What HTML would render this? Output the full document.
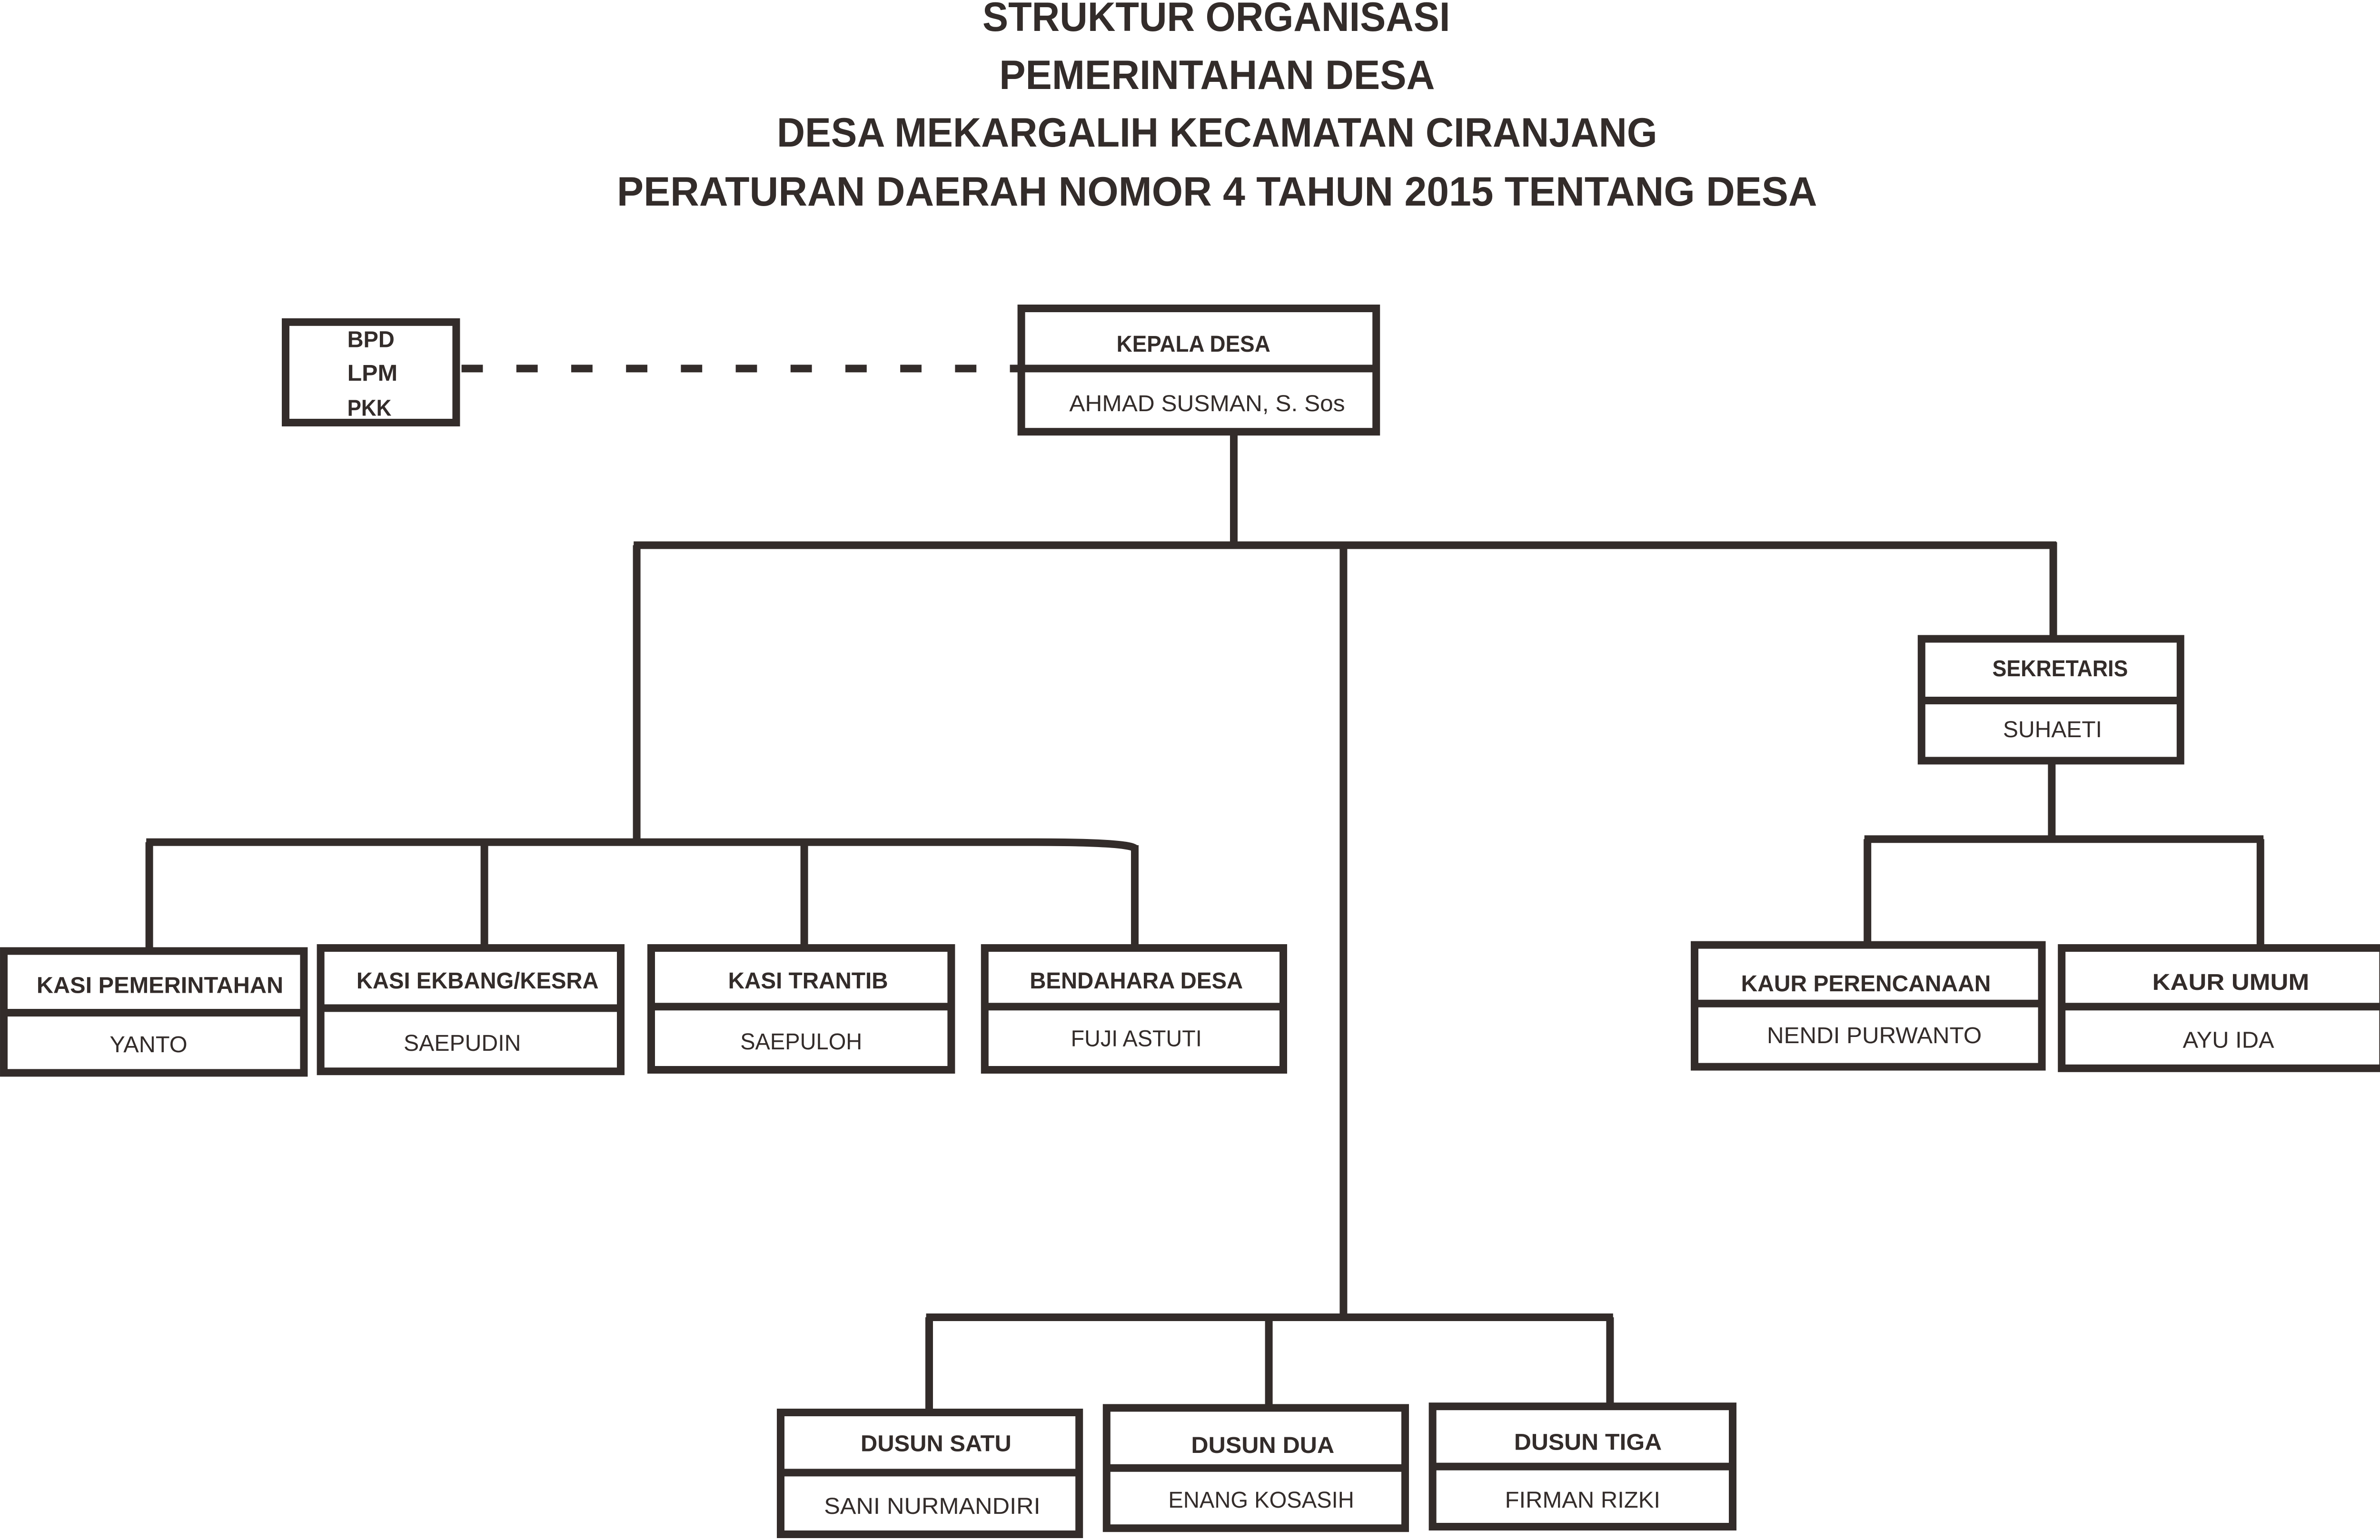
<!DOCTYPE html>
<html><head><meta charset="utf-8"><style>
html,body{margin:0;padding:0;background:#fff;}
svg{display:block;}
text{font-family:"Liberation Sans",sans-serif;fill:#332c2a;}
.b{font-weight:bold;}
</style></head><body>
<svg width="5017" height="3236" viewBox="0 0 1567.8 1011.25" xmlns="http://www.w3.org/2000/svg">
<rect x="0" y="0" width="1567.8" height="1011.25" fill="#fff"/>
<g class="b" font-size="27">
<text class="b" x="645" y="20.3" textLength="307" lengthAdjust="spacingAndGlyphs">STRUKTUR ORGANISASI</text>
<text class="b" x="656" y="58.4" textLength="286" lengthAdjust="spacingAndGlyphs">PEMERINTAHAN DESA</text>
<text class="b" x="510" y="96.3" textLength="578" lengthAdjust="spacingAndGlyphs">DESA MEKARGALIH KECAMATAN CIRANJANG</text>
<text class="b" x="405" y="135" textLength="788" lengthAdjust="spacingAndGlyphs">PERATURAN DAERAH NOMOR 4 TAHUN 2015 TENTANG DESA</text>
</g>
<g stroke="#332c2a" stroke-width="5" fill="none" stroke-linecap="butt">
<!-- connectors -->
<line x1="303" y1="242" x2="670" y2="242" stroke-dasharray="14,22"/>
<line x1="810" y1="284" x2="810" y2="360"/>
<line x1="416" y1="358" x2="1350" y2="358"/>
<line x1="418" y1="358" x2="418" y2="555"/>
<line x1="882" y1="358" x2="882" y2="867"/>
<line x1="1348" y1="356" x2="1348" y2="419"/>
<line x1="1347" y1="500" x2="1347" y2="553"/>
<line x1="1224" y1="551" x2="1486" y2="551"/>
<line x1="1226" y1="551" x2="1226" y2="620"/>
<line x1="1484" y1="551" x2="1484" y2="622"/>
<path d="M96 553 L680 553 Q740 553 745 557"/>
<line x1="98" y1="553" x2="98" y2="624"/>
<line x1="318" y1="553" x2="318" y2="622"/>
<line x1="528" y1="553" x2="528" y2="622"/>
<line x1="745" y1="555" x2="745" y2="622"/>
<line x1="608" y1="865" x2="1059" y2="865"/>
<line x1="610" y1="865" x2="610" y2="927"/>
<line x1="833" y1="865" x2="833" y2="924"/>
<line x1="1057" y1="865" x2="1057" y2="923"/>
<!-- boxes -->
<rect x="187.5" y="211.5" width="112" height="66"/>
<rect x="670.5" y="202.5" width="233" height="81"/><line x1="670" y1="242" x2="904" y2="242"/>
<rect x="1261.5" y="419.5" width="170" height="80"/><line x1="1261" y1="460" x2="1432" y2="460"/>
<rect x="1112.5" y="620.5" width="228" height="80"/><line x1="1112" y1="659" x2="1341" y2="659"/>
<rect x="1353.5" y="622.5" width="211" height="79"/><line x1="1353" y1="661" x2="1565" y2="661"/>
<rect x="2.5" y="624.5" width="197" height="80"/><line x1="2" y1="665" x2="200" y2="665"/>
<rect x="210.5" y="622.5" width="197" height="81"/><line x1="210" y1="662" x2="408" y2="662"/>
<rect x="427.5" y="622.5" width="197" height="80"/><line x1="427" y1="661" x2="625" y2="661"/>
<rect x="646.5" y="622.5" width="196" height="80"/><line x1="646" y1="661" x2="843" y2="661"/>
<rect x="512.5" y="927.5" width="196" height="80"/><line x1="512" y1="967" x2="709" y2="967"/>
<rect x="726.5" y="924.5" width="196" height="79"/><line x1="726" y1="964" x2="923" y2="964"/>
<rect x="940.5" y="923.5" width="197" height="79"/><line x1="940" y1="963" x2="1138" y2="963"/>
</g>
<g font-size="15">
<text class="b" x="228" y="228" textLength="31" lengthAdjust="spacingAndGlyphs">BPD</text>
<text class="b" x="228" y="250" textLength="33" lengthAdjust="spacingAndGlyphs">LPM</text>
<text class="b" x="228" y="273" textLength="29" lengthAdjust="spacingAndGlyphs">PKK</text>
<text class="b" x="733" y="231" textLength="101" lengthAdjust="spacingAndGlyphs">KEPALA DESA</text>
<text x="702" y="270" textLength="181" lengthAdjust="spacingAndGlyphs">AHMAD SUSMAN, S. Sos</text>
<text class="b" x="1308" y="444" textLength="89" lengthAdjust="spacingAndGlyphs">SEKRETARIS</text>
<text x="1315" y="484" textLength="65" lengthAdjust="spacingAndGlyphs">SUHAETI</text>
<text class="b" x="1143" y="651" textLength="164" lengthAdjust="spacingAndGlyphs">KAUR PERENCANAAN</text>
<text x="1160" y="685" textLength="141" lengthAdjust="spacingAndGlyphs">NENDI PURWANTO</text>
<text class="b" x="1413" y="650" textLength="103" lengthAdjust="spacingAndGlyphs">KAUR UMUM</text>
<text x="1433" y="688" textLength="60" lengthAdjust="spacingAndGlyphs">AYU IDA</text>
<text class="b" x="24" y="652" textLength="162" lengthAdjust="spacingAndGlyphs">KASI PEMERINTAHAN</text>
<text x="72" y="691" textLength="51" lengthAdjust="spacingAndGlyphs">YANTO</text>
<text class="b" x="234" y="649" textLength="159" lengthAdjust="spacingAndGlyphs">KASI EKBANG/KESRA</text>
<text x="265" y="690" textLength="77" lengthAdjust="spacingAndGlyphs">SAEPUDIN</text>
<text class="b" x="478" y="649" textLength="105" lengthAdjust="spacingAndGlyphs">KASI TRANTIB</text>
<text x="486" y="689" textLength="80" lengthAdjust="spacingAndGlyphs">SAEPULOH</text>
<text class="b" x="676" y="649" textLength="140" lengthAdjust="spacingAndGlyphs">BENDAHARA DESA</text>
<text x="703" y="687" textLength="86" lengthAdjust="spacingAndGlyphs">FUJI ASTUTI</text>
<text class="b" x="565" y="953" textLength="99" lengthAdjust="spacingAndGlyphs">DUSUN SATU</text>
<text x="541" y="994" textLength="142" lengthAdjust="spacingAndGlyphs">SANI NURMANDIRI</text>
<text class="b" x="782" y="954" textLength="94" lengthAdjust="spacingAndGlyphs">DUSUN DUA</text>
<text x="767" y="990" textLength="122" lengthAdjust="spacingAndGlyphs">ENANG KOSASIH</text>
<text class="b" x="994" y="952" textLength="97" lengthAdjust="spacingAndGlyphs">DUSUN TIGA</text>
<text x="988" y="990" textLength="102" lengthAdjust="spacingAndGlyphs">FIRMAN RIZKI</text>
</g>
</svg>
</body></html>
